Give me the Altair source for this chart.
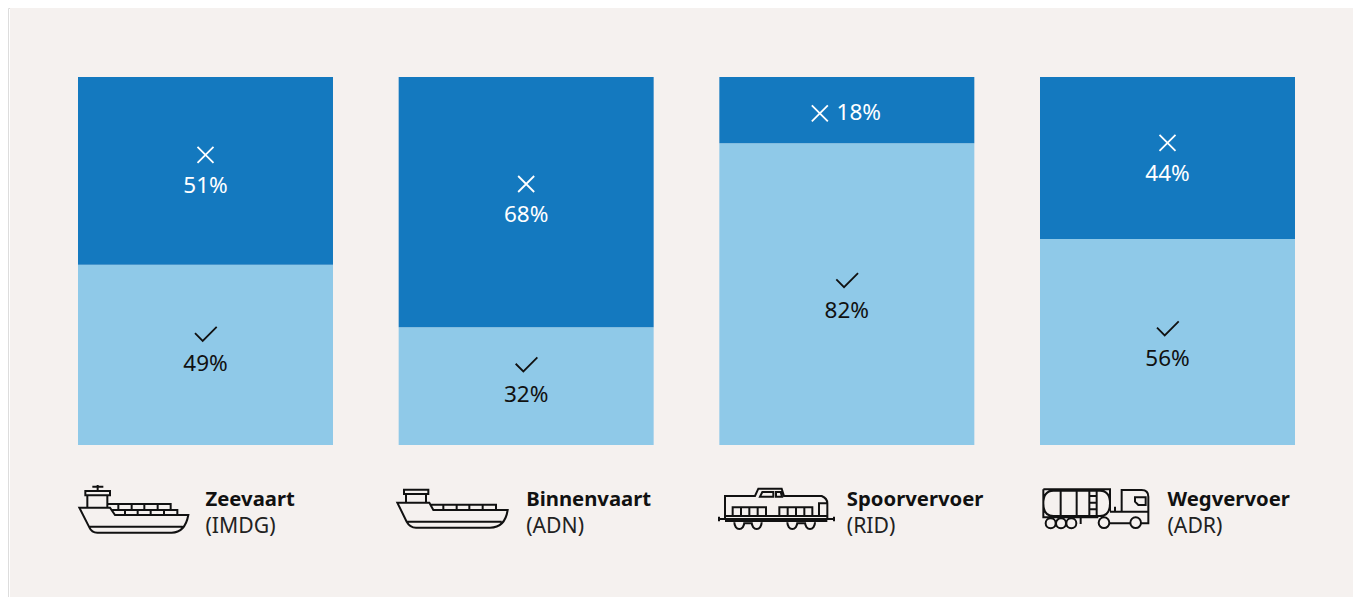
import altair as alt
import pandas as pd

# ---- data ----
categories = ["Zeevaart", "Binnenvaart", "Spoorvervoer", "Wegvervoer"]
codes = ["(IMDG)", "(ADN)", "(RID)", "(ADR)"]
yes_values = [49, 32, 82, 56]
no_values = [51, 68, 18, 44]
# small label nudges, in percentage points, off each segment's midpoint
yes_nudge = [-2.6, -2.4, -4.5, -4.6]
no_nudge = [-4.1, -3.5, -0.9, -4.3]

# ---- style ----
DARK = "#1479BF"
LIGHT = "#8FC9E8"
PAPER = "#F5F1EF"
FONT = "Noto Sans"
W, H = 1345, 589
X_RANGE = [70, 1287]
Y_RANGE = [437, 69]


def circle(cx, cy, r):
    return f"M{cx-r},{cy}a{r},{r} 0 1 0 {2*r},0a{r},{r} 0 1 0 {-2*r},0"


CROSS = "M-8,-8L8,8M-8,8L8,-8"
CHECK = "M-10.5,-1.7L-2.8,6L11.2,-8"

ship = (
    "M58,113H150L165,135H385Q375,188 335,188H112Q95,188 88,172Z"
    "M88,170H368M82,113V76H142V113M76,63H150V76H76Z"
    "M113,45V63M97,50H130"
    "M145,102H332V118M175,102V118M215,102V118M253,102V118M293,102V118"
    "M157,120H352V135M195,120V135M233,120V135M272,120V135M312,120V135"
)
barge = (
    "M22,98H118L130,120H353Q345,173 300,173H78Q60,173 50,155Z"
    "M50,155H335M48,98V72H108V98M42,59H115V72H42Z"
    "M120,104H318V120M160,104V120M200,104V120M238,104V120M278,104V120"
)
train = (
    "M45,147V78H135L145,56H215L222,78H335Q352,85 352,100V147"
    "M150,80L157,66H190V80ZM198,66H212L216,80H198Z"
    "M25,147H372M45,138H352M45,153H352M27,140V154M372,140V154"
    "M68,138V112H168V138M93,112V138M118,112V138M143,112V138"
    "M208,138V112H307V138M233,112V138M258,112V138M283,112V138"
    "M327,138V100H352"
    "M73,157A15,20 0 0 0 103,157M125,157A15,20 0 0 0 155,157"
    "M232,157A15,20 0 0 0 262,157M285,157A15,20 0 0 0 315,157"
    "M103,160H125M262,160H285"
)
truck = (
    "M40,58H240V122M40,58V142H205"
    "M70,62H210Q240,62 240,100Q240,138 210,138H70Q40,138 40,100Q40,62 70,62Z"
    "M92,60V140M140,60V140M178,60V140M200,60V140"
    "M178,78H200M178,98H200M178,118H200"
    "M275,125V60H335Q355,60 355,80V160H335"
    "M315,82H347V105H325L315,95Z"
    "M240,125H355M255,110V125"
    "M238,160H300M152,145V162"
    + circle(62, 160, 15) + circle(93, 160, 15) + circle(124, 160, 15)
    + circle(222, 158, 16) + circle(317, 158, 16)
)
icons = [(ship, 60), (barge, 390), (train, 710), (truck, 1030)]

# ---- tables ----
rows = []
for i, c in enumerate(categories):
    y, n = yes_values[i], no_values[i]
    rows.append(dict(cat=c, code=codes[i], kind="yes", low=0, high=y, label=f"{y}%",
                     pos=y / 2 + yes_nudge[i]))
    rows.append(dict(cat=c, code=codes[i], kind="no", low=y, high=100, label=f"{n}%",
                     pos=y + n / 2 + no_nudge[i]))
df = pd.DataFrame(rows)

x = alt.X("cat:N", sort=categories, axis=None,
          scale=alt.Scale(range=X_RANGE, paddingInner=0.2048, paddingOuter=0, round=False))
y_scale = alt.Scale(domain=[0, 100], range=Y_RANGE)
ypos = alt.Y("pos:Q", scale=y_scale, axis=None)

base = alt.Chart(df)
is_small = alt.datum.high - alt.datum.low < 25

paper = alt.Chart(pd.DataFrame({"a": [0]})).mark_rect(color=PAPER).encode(
    x=alt.value(2), x2=alt.value(W), y=alt.value(0), y2=alt.value(H))

bars = base.mark_bar(stroke=None).encode(
    x=x,
    y=alt.Y("low:Q", scale=y_scale, axis=None),
    y2="high:Q",
    color=alt.Color("kind:N", scale=alt.Scale(domain=["yes", "no"], range=[LIGHT, DARK]), legend=None),
)

stacked = base.transform_filter(~is_small)
inline = base.transform_filter(is_small)


def txt(source, colour, dx=0):
    return source.transform_filter(alt.datum.kind == colour[0]).mark_text(
        font=FONT, fontSize=22.5, color=colour[1], baseline="middle", dx=dx, align="center"
    ).encode(x=x, y=ypos, text="label:N")


def sym(source, colour, path, offset_x=0, offset_y=-31):
    return source.transform_filter(alt.datum.kind == colour[0]).mark_point(
        shape=path, size=4, filled=False, stroke=colour[1], strokeWidth=1.8,
        opacity=1, xOffset=offset_x, yOffset=offset_y
    ).encode(x=x, y=ypos)


WHITE = ("no", "#FFFFFF")
BLACK = ("yes", "#111111")
marks = [
    paper, bars,
    txt(stacked, WHITE), sym(stacked, WHITE, CROSS),
    txt(stacked, BLACK), sym(stacked, BLACK, CHECK, offset_y=-29.5),
    txt(inline, WHITE, dx=12), sym(inline, WHITE, CROSS, offset_x=-27, offset_y=0),
]

captions = pd.DataFrame({"cat": categories, "code": codes})
cap = alt.Chart(captions)
marks.append(cap.mark_text(font=FONT, fontSize=20.3, fontWeight="bold", color="#111111",
                           align="left", baseline="middle").encode(
    x=x, y=alt.value(492), text="cat:N"))
marks.append(cap.mark_text(font=FONT, fontSize=21.2, color="#222222",
                           align="left", baseline="middle").encode(
    x=x, y=alt.value(518.5), text="code:N"))

for path, crop_x in icons:
    marks.append(alt.Chart(pd.DataFrame({"a": [0]})).mark_point(
        shape=path, size=4 / 9, filled=False, stroke="#111111", strokeWidth=2, opacity=1
    ).encode(x=alt.value(crop_x - 8), y=alt.value(470 - 8)))

chart = alt.layer(*marks).properties(
    width=W, height=H, padding=0, autosize=alt.AutoSizeParams(type="none")
).configure_view(stroke=None).configure(background="#FFFFFF")

chart.save("out.html", embed_options={"renderer": "svg", "actions": False})
